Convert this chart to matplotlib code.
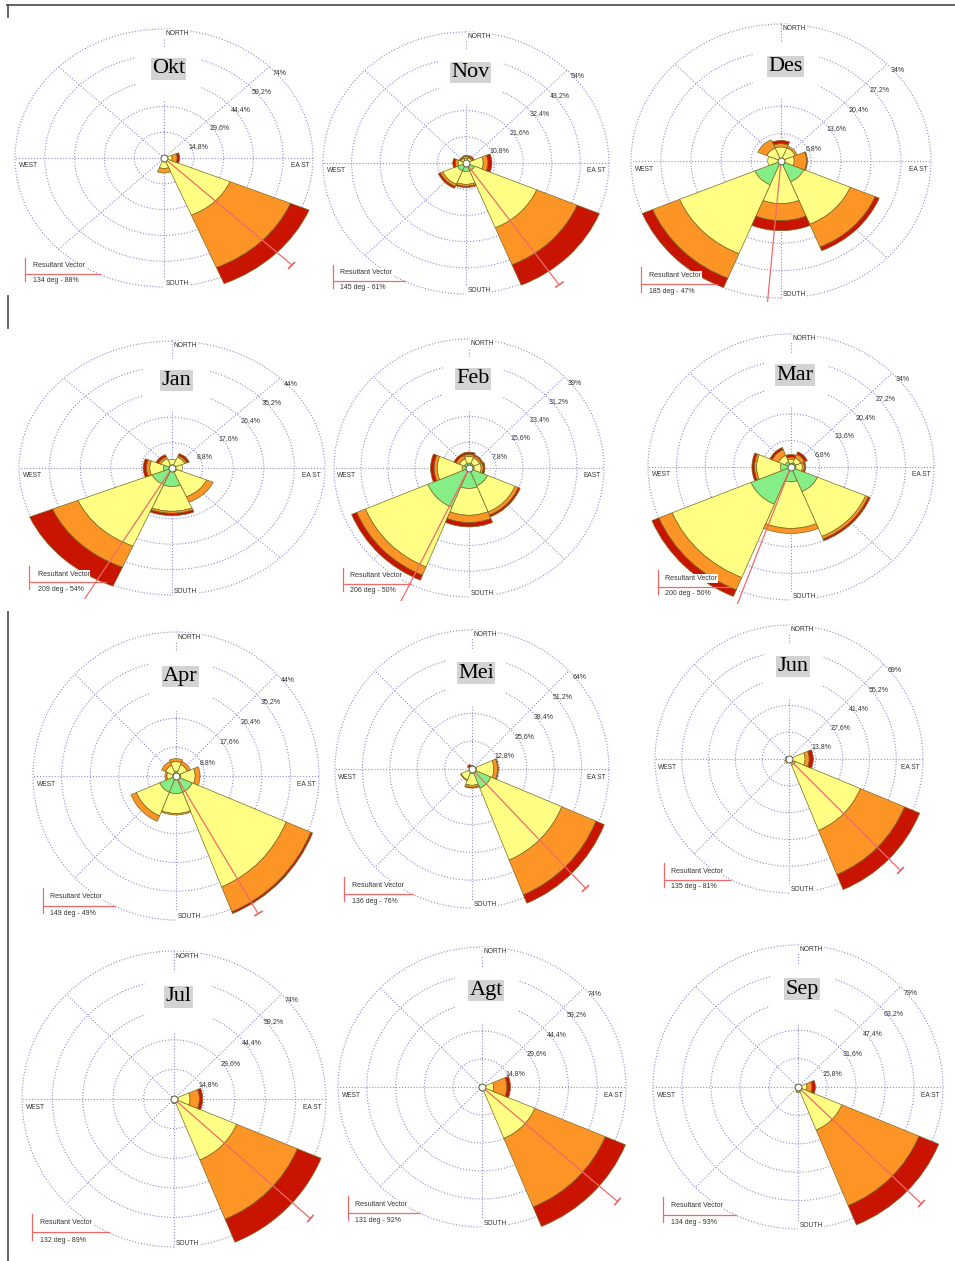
import numpy as np
import matplotlib
matplotlib.use("Agg")
import matplotlib.pyplot as plt
from matplotlib.lines import Line2D
from matplotlib.patches import Rectangle

MONTHS = ["Okt", "Nov", "Des", "Jan", "Feb", "Mar",
          "Apr", "Mei", "Jun", "Jul", "Agt", "Sep"]
SCALE_MAX = [74, 54, 34, 44, 39, 34, 44, 64, 69, 74, 74, 79]
RESULTANT_DEG = [134, 145, 185, 209, 206, 200, 149, 136, 135, 132, 131, 134]
RESULTANT_PCT = [88, 61, 47, 54, 50, 50, 49, 76, 81, 89, 92, 93]
EAST_LABEL = ["EA ST", "EA ST", "EA ST", "EA ST", "EAST", "EA ST",
              "EA ST", "EA ST", "EA ST", "EA ST", "EA ST", "EA ST"]

# blowing-from sectors: N, NE, E, SE, S, SW, W, NW
DIRECTIONS = [0, 45, 90, 135, 180, 225, 270, 315]

# frequency (%) per speed class, one row per month
FREQ_GREEN = [
    [0, 0, 0, 0, 0, 0, 0, 0],
    [0.5, 0.5, 1.0, 3.5, 3.5, 3.5, 0.5, 0.5],
    [0.5, 0.5, 0.5, 5.6, 0.5, 6.4, 0.5, 0.5],
    [1.0, 1.0, 1.0, 1.5, 6.4, 6.2, 2.5, 1.0],
    [1.5, 1.5, 1.5, 5.8, 6.2, 12.9, 2.0, 1.5],
    [1.0, 1.2, 1.2, 6.8, 3.8, 10.3, 2.5, 1.5],
    [1.5, 1.0, 1.5, 5.4, 5.4, 5.4, 1.0, 1.0],
    [0, 0, 2.0, 9.6, 2.0, 1.5, 0, 0],
    [0, 0, 1.0, 3.5, 0, 0, 0, 0],
    [0, 0, 0, 0, 0, 0, 0, 0],
    [0, 0, 0, 0, 0, 0, 0, 0],
    [0, 0, 0, 0, 0, 0, 0, 0],
]
FREQ_YELLOW = [
    [0, 0, 4.0, 35.5, 6.0, 0, 0, 0],
    [1.5, 1.8, 5.5, 25.4, 5.3, 6.0, 2.5, 1.5],
    [3.0, 3.0, 2.5, 11.4, 10.1, 18.5, 2.5, 3.0],
    [2.0, 3.0, 2.0, 9.3, 8.6, 23.1, 3.9, 2.5],
    [2.0, 1.8, 2.0, 8.6, 8.1, 19.5, 7.2, 1.5],
    [1.0, 1.3, 1.5, 12.4, 11.9, 20.3, 5.7, 1.7],
    [2.9, 2.8, 4.4, 31.3, 6.1, 7.8, 1.8, 2.5],
    [0.8, 0, 8.2, 35.8, 5.5, 4.0, 0, 1.0],
    [0, 0, 7.3, 36.3, 0, 2.5, 2.0, 0.8],
    [0, 0, 7.8, 33.0, 1.5, 0, 0, 0],
    [0, 0, 6.0, 29.4, 1.0, 0, 0, 0],
    [0, 0, 4.9, 25.9, 2.0, 0, 0, 0],
]
FREQ_ORANGE = [
    [0, 0, 2.5, 32.5, 2.6, 0, 0, 0],
    [0.8, 0.5, 1.8, 16.5, 0.8, 1.0, 1.0, 0.5],
    [0.8, 0.5, 2.8, 6.1, 4.2, 6.6, 0, 2.2],
    [0, 0.6, 0, 2.0, 0.7, 7.9, 1.0, 0.7],
    [0.6, 0.6, 0.6, 1.0, 2.2, 2.7, 0.9, 1.0],
    [0.5, 1.0, 0.5, 0.7, 1.3, 3.4, 0.5, 1.6],
    [0.9, 1.0, 1.5, 8.2, 0.4, 1.8, 0.6, 1.3],
    [0.4, 0, 1.8, 17.3, 1.0, 0.3, 0, 0.5],
    [0, 0, 2.1, 24.6, 0, 0, 0, 0],
    [0, 0, 4.6, 32.0, 0.8, 0, 0, 0],
    [0, 0, 6.8, 39.2, 0.5, 0, 0, 0],
    [0, 0, 2.7, 45.5, 1.0, 0, 0, 0],
]
FREQ_RED = [
    [0, 0, 1.3, 10.0, 0, 0, 0, 0],
    [0.3, 0.5, 1.5, 9.1, 0.5, 0.8, 1.0, 0.3],
    [0.8, 0, 0.2, 1.0, 2.5, 2.5, 0, 0],
    [0, 0.8, 0, 0, 0.8, 7.1, 0.9, 0.8],
    [0.7, 0.4, 0.5, 0.6, 1.3, 1.6, 1.0, 0.7],
    [0.7, 0.7, 0.3, 0.5, 0, 1.8, 0.6, 0.6],
    [0, 0, 0, 0.6, 0, 0, 0, 0],
    [0.4, 0, 0.3, 4.2, 0.3, 0, 0, 0.8],
    [0, 0, 2.1, 8.4, 0, 0, 0, 0],
    [0, 0, 1.6, 12.5, 0, 0, 0, 0],
    [0, 0, 1.8, 11.2, 0, 0, 0, 0],
    [0, 0, 1.9, 11.6, 0, 0, 0, 0],
]

SPEED_CLASSES = [FREQ_GREEN, FREQ_YELLOW, FREQ_ORANGE, FREQ_RED]
SPEED_COLORS = ["#86ee86", "#ffff84", "#fd9426", "#c81400"]

# page layout in pixels: ring centre x, y and outer ring radii x, y
PANELS = [
    (164, 158, 149, 129), (466, 163, 143, 131), (781, 161, 150, 137),
    (172, 468, 153, 127), (469, 468, 135, 129), (791, 467, 143, 133),
    (176, 776, 143, 144), (472, 769, 137, 139), (789, 759, 134, 134),
    (174, 1099, 152, 148), (482, 1087, 144, 140), (798, 1087, 145, 142),
]
FIG_W, FIG_H = 955, 1261
PAD = 1.1

GRID = "#8c8cd2"
EDGE = "#7a6a24"
VEC = "#f06a6a"
TXT = "#333333"
SANS = "Liberation Sans"
SERIF = "Liberation Serif"


def ring_label(v):
    s = f"{v:.1f}".rstrip("0").rstrip(".")
    return s.replace(".", ",") + "%"


def axpos(xn, yn):
    # ring-normalised offset from the centre -> axes fraction
    return 0.5 + xn / (2 * PAD), 0.5 + yn / (2 * PAD)


def draw_rose(fig, i):
    cx, cy, rx, ry = PANELS[i]
    rect = [(cx - rx * PAD) / FIG_W, 1 - (cy + ry * PAD) / FIG_H,
            2 * rx * PAD / FIG_W, 2 * ry * PAD / FIG_H]
    ax = fig.add_axes(rect, projection="polar")
    ax.set_aspect("auto")
    ax.set_theta_zero_location("N")
    ax.set_theta_direction(-1)
    ax.set_facecolor("none")
    ax.spines["polar"].set_visible(False)

    top = SCALE_MAX[i]
    rings = [top * k / 5 for k in range(1, 6)]
    ax.set_ylim(0, top * PAD)
    ax.set_rgrids(rings, labels=[""] * 5)
    ax.set_xticks([])
    ax.xaxis.grid(False)
    ax.yaxis.grid(True, color=GRID, linestyle=":", linewidth=0.8)

    theta = np.radians(DIRECTIONS)
    for t in theta:
        ax.plot([t, t], [0, top], color=GRID, linestyle=":", linewidth=0.8, zorder=1)

    # mask under the month title
    x0, y0 = axpos(-0.19, 0.45)
    ax.add_patch(Rectangle((x0, y0), 0.44 / (2 * PAD), 0.41 / (2 * PAD),
                           transform=ax.transAxes, facecolor="white",
                           edgecolor="none", zorder=1.8))

    bottom = np.zeros(len(DIRECTIONS))
    for freq, col in zip(SPEED_CLASSES, SPEED_COLORS):
        h = np.asarray(freq[i], dtype=float)
        keep = h > 0
        if keep.any():
            ax.bar(theta[keep], h[keep], width=np.radians(45), bottom=bottom[keep],
                   color=col, edgecolor=EDGE, linewidth=0.5, zorder=2)
        bottom += h

    ax.plot([0], [0], "o", ms=5, mfc="white", mec="#5a5a40", mew=0.7, zorder=4)

    # resultant vector, cut off at the bottom of the picture frame
    clip = Rectangle((0, 0.5 - 1.03 / (2 * PAD)), 1, 1, transform=ax.transAxes)
    deg, pct = RESULTANT_DEG[i], RESULTANT_PCT[i]
    th = np.radians(deg)
    vec, = ax.plot([th, th], [0, pct], color=VEC, lw=0.9, zorder=3)
    cap, = ax.plot([th], [pct], ls="none", marker=(2, 2, -(deg + 90)), ms=7,
                   mew=0.9, color=VEC, zorder=3)
    vec.set_clip_path(clip)
    cap.set_clip_path(clip)

    for v in rings:
        ax.annotate(ring_label(v), xy=(np.radians(45), v), xytext=(2.5, -4.7),
                    textcoords="offset points", ha="left", va="center",
                    fontsize=5, family=SANS, color=TXT, zorder=5)

    box = dict(boxstyle="square,pad=0.15", fc="white", ec="none")
    ax.text(*axpos(0.01, 0.965), "NORTH", transform=ax.transAxes, ha="left",
            va="center", fontsize=4.8, family=SANS, color=TXT, bbox=box, zorder=5)
    ax.text(*axpos(0.01, -0.975), "SOUTH", transform=ax.transAxes, ha="left",
            va="center", fontsize=4.8, family=SANS, color=TXT, bbox=box, zorder=5)
    ax.text(*axpos(-0.975, -0.06), "WEST", transform=ax.transAxes, ha="left",
            va="center", fontsize=4.8, family=SANS, color=TXT, zorder=5)
    ax.text(*axpos(0.975, -0.06), EAST_LABEL[i], transform=ax.transAxes, ha="right",
            va="center", fontsize=4.8, family=SANS, color=TXT, zorder=5)

    ax.text(*axpos(0.03, 0.69), MONTHS[i], transform=ax.transAxes, ha="center",
            va="center", fontsize=16, family=SERIF, color="black", zorder=6,
            bbox=dict(boxstyle="square,pad=0.06", fc="#d3d3d3", ec="none"))

    # legend bracket
    lx0 = axpos(-0.933, 0)[0]
    lx1 = axpos(-0.43, 0)[0]
    ly_top = axpos(0, -0.775)[1]
    ly_bot = axpos(0, -0.953)[1]
    ly_mid = axpos(0, -0.90)[1]
    for xs, ys in (([lx0, lx0], [ly_top, ly_bot]), ([lx0, lx1], [ly_mid, ly_mid])):
        ax.add_artist(Line2D(xs, ys, transform=ax.transAxes, color=VEC,
                             lw=0.9, zorder=5, clip_on=False))
    ax.text(*axpos(-0.879, -0.837), "Resultant Vector", transform=ax.transAxes,
            ha="left", va="center", fontsize=5, family=SANS, color=TXT, zorder=6,
            bbox=dict(boxstyle="square,pad=0.1", fc="white", ec="none"))
    ax.text(*axpos(-0.879, -0.953), f"{deg} deg - {pct}%", transform=ax.transAxes,
            ha="left", va="center", fontsize=5, family=SANS, color=TXT, zorder=6)
    return ax


def page_line(fig, xs, ys, **kw):
    fig.add_artist(Line2D([x / FIG_W for x in xs], [1 - y / FIG_H for y in ys],
                          transform=fig.transFigure, **kw))


def main():
    fig = plt.figure(figsize=(FIG_W / 100, FIG_H / 100), dpi=100)
    fig.patch.set_facecolor("white")
    for i in range(len(MONTHS)):
        draw_rose(fig, i)

    frame = dict(color="#555555", lw=1.3)
    page_line(fig, [7, 955], [5, 5], **frame)
    page_line(fig, [8, 8], [5, 17], **frame)
    page_line(fig, [8, 8], [296, 328], **frame)
    page_line(fig, [8, 8], [612, 1260], **frame)

    fig.savefig("out.png", dpi=100)


if __name__ == "__main__":
    main()
